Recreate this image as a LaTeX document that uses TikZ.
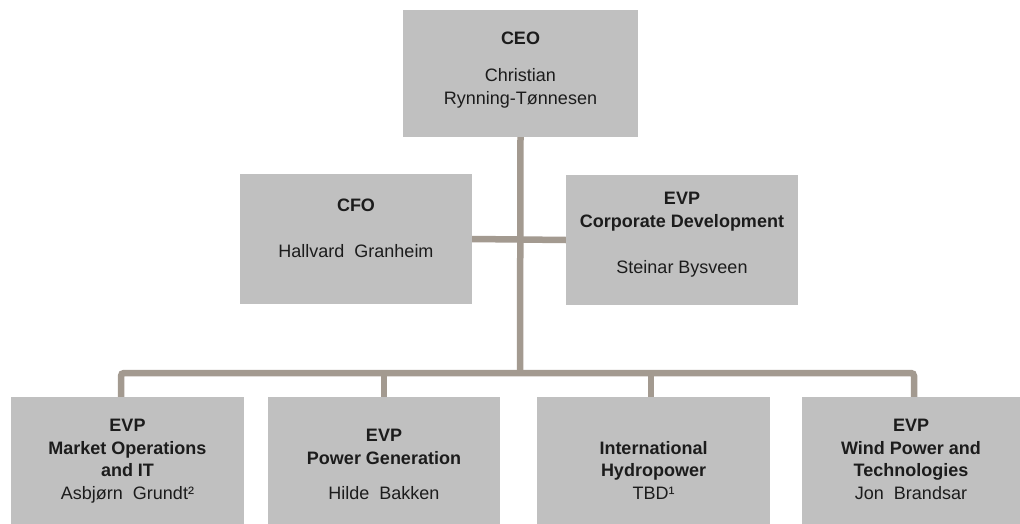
\documentclass[tikz,border=0pt]{standalone}
\usepackage{fontspec}
\setmainfont{Liberation Sans}
\definecolor{boxgray}{RGB}{192,192,192}
\definecolor{linkbrown}{RGB}{163,154,144}
\definecolor{inkgray}{RGB}{28,28,28}
\tikzset{
    orgbox/.style={rectangle, fill=boxgray, inner sep=0pt, minimum height=127pt},
    orgtext/.style={anchor=base, align=center, text=inkgray, inner sep=0pt,
        font=\fontsize{18}{22.5}\selectfont},
    orglink/.style={draw=linkbrown, line width=6.5pt},
}
\begin{document}
\begin{tikzpicture}[x=1pt, y=-1pt]
    \useasboundingbox (0,0) rectangle (1020,524);

    \node[orgbox, minimum width=235pt] (ceo) at (520.5,73.5) {};
    \node[orgbox, minimum width=232pt, minimum height=130pt] (cfo) at (356,239) {};
    \node[orgbox, minimum width=232pt, minimum height=130pt] (corp) at (682,240) {};
    \node[orgbox, minimum width=233pt] (mkt) at (127.5,460.5) {};
    \node[orgbox, minimum width=232pt] (power) at (384,460.5) {};
    \node[orgbox, minimum width=233pt] (hydro) at (653.5,460.5) {};
    \node[orgbox, minimum width=218pt] (wind) at (911,460.5) {};

    \node[orgtext] (ceotext) at (520.5,104.5) {\textbf{CEO}\\[14.5pt]Christian\\Rynning-Tønnesen};
    \node[orgtext] (cfotext) at (356,257) {\textbf{CFO}\\[23.5pt]Hallvard\ \ Granheim};
    \node[orgtext] (corptext) at (682,273) {\textbf{EVP}\\\textbf{Corporate Development}\\[23.5pt]Steinar Bysveen};
    \node[orgtext] (mkttext) at (127.5,499) {\textbf{EVP}\\\textbf{Market Operations}\\\textbf{and IT}\\Asbjørn\ \ Grundt²};
    \node[orgtext] (powertext) at (384,499) {\textbf{EVP}\\\textbf{Power Generation}\\[12.5pt]Hilde\ \ Bakken};
    \node[orgtext] (hydrotext) at (653.5,499) {\textbf{International}\\\textbf{Hydropower}\\TBD¹};
    \node[orgtext] (windtext) at (911,499) {\textbf{EVP}\\\textbf{Wind Power and}\\\textbf{Technologies}\\Jon\ \ Brandsar};

    \coordinate (bus) at (520,373);
    \draw[orglink] (ceo.south) -- (bus);
    \draw[orglink] (cfo.east) -- (corp.west);
    \draw[orglink, rounded corners=3pt] ([xshift=-6.5pt]mkt.north) |- (bus) -| ([xshift=3pt]wind.north);
    \draw[orglink] (power.north) -- (power.north |- bus);
    \draw[orglink] ([xshift=-2.5pt]hydro.north) -- ([xshift=-2.5pt]hydro.north |- bus);
\end{tikzpicture}
\end{document}
